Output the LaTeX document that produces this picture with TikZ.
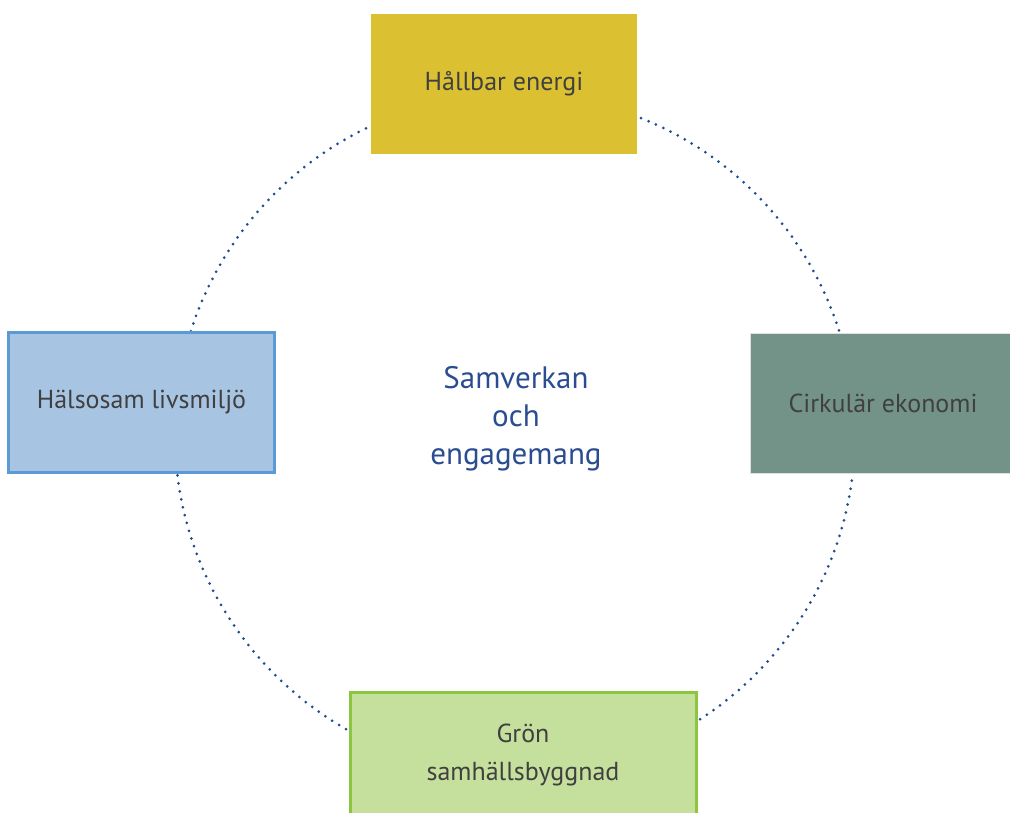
\documentclass[tikz,border=0pt]{standalone}
\usepackage{fontspec}
\setmainfont{PT Sans}
\usepackage{tikz}
\definecolor{energi}{HTML}{DBC132}
\definecolor{halsa}{HTML}{A7C4E2}
\definecolor{halsaline}{HTML}{5B9BD5}
\definecolor{cirkel}{HTML}{739388}
\definecolor{gron}{HTML}{C5DF9C}
\definecolor{gronline}{HTML}{8CC63F}
\definecolor{boxtext}{HTML}{404040}
\definecolor{midblue}{HTML}{2A4C90}
\definecolor{ringblue}{HTML}{1F4B92}
\tikzset{
    every node/.style={rectangle, minimum width=266pt, minimum height=140pt,
    	inner sep=0pt, align=center, text=boxtext,
    	font=\fontsize{26}{38}\selectfont}
}
\tikzset{
    ring/.style={draw=ringblue, line width=3pt, line cap=round,
    	dash pattern=on 0pt off 8.1pt}
}

\begin{document}
\begin{tikzpicture}
	\clip (0pt, 0pt) rectangle (1010pt, -812pt);
	\fill [white] (0pt, 0pt) rectangle (1010pt, -812pt);
	\coordinate (mid) at (515pt, -434pt);
	\draw [ring] (mid) circle (340pt);
	
	\node (energi) [fill=energi] at (504pt, -84pt) {Hållbar energi};
	\node (halsa) [fill=halsa, draw=halsaline, line width=3pt] at (141.5pt, -402.5pt) {Hälsosam livsmiljö};
	\node (cirkel) [fill=cirkel, draw=black!12, line width=1pt] at (883pt, -403pt) {Cirkulär ekonomi};
	\node (gron) [fill=gron, draw=gronline, line width=3pt, minimum width=346pt, minimum height=125pt] at (523pt, -754.5pt) {Grön\\samhällsbyggnad};
	
	\node (samverkan) [minimum width=0pt, minimum height=0pt, text=midblue,
		font=\fontsize{31}{38}\selectfont] at (516pt, -419pt) {Samverkan\\och\\engagemang};
\end{tikzpicture}
\end{document}
